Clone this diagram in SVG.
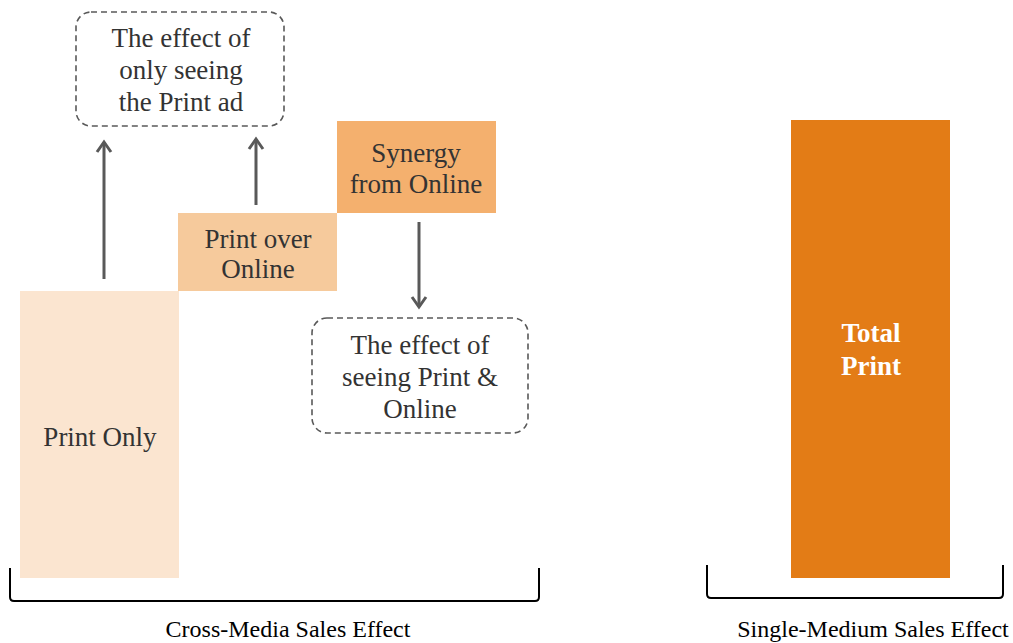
<svg xmlns="http://www.w3.org/2000/svg" width="1013" height="643" viewBox="0 0 1013 643">
  <style>
    .lbl { font-family: "Liberation Serif", "Times New Roman", serif; font-size: 27px; fill: #333333; text-anchor: middle; }
    .bold { font-weight: bold; fill: #ffffff; }
    .axis { font-family: "Liberation Serif", "Times New Roman", serif; font-size: 24px; fill: #000000; text-anchor: middle; }
    .note { fill: none; stroke: #595959; stroke-width: 1.6; stroke-dasharray: 6 4; }
    .conn { fill: none; stroke: #595959; stroke-width: 3; }
    .brace { fill: none; stroke: #000000; stroke-width: 2; }
  </style>
  <defs>
    <marker id="arrow" viewBox="0 0 20 20" refX="11" refY="10" markerWidth="20" markerHeight="20" markerUnits="userSpaceOnUse" orient="auto" overflow="visible">
      <path d="M1,3 L11,10 L1,17" fill="none" stroke="#595959" stroke-width="3" stroke-linejoin="miter"/>
    </marker>
  </defs>

  <!-- stacked bar: cross-media -->
  <g id="print-only">
    <rect x="20" y="291" width="159" height="287" fill="#FBE5D0"/>
    <text class="lbl" x="100" y="446">Print Only</text>
  </g>
  <g id="print-over-online">
    <rect x="178" y="213" width="159" height="78" fill="#F6CA9C"/>
    <text class="lbl" x="258" y="248">Print over</text>
    <text class="lbl" x="258" y="278">Online</text>
  </g>
  <g id="synergy">
    <rect x="337" y="121" width="159" height="92" fill="#F4B06E"/>
    <text class="lbl" x="416" y="162">Synergy</text>
    <text class="lbl" x="416" y="193">from Online</text>
  </g>

  <!-- single-medium bar -->
  <g id="total-print">
    <rect x="791" y="120" width="159" height="458" fill="#E37C16"/>
    <text class="lbl bold" x="871" y="342">Total</text>
    <text class="lbl bold" x="871" y="375">Print</text>
  </g>

  <!-- callouts -->
  <g id="note-print-only">
    <rect class="note" x="76" y="12" width="208" height="114" rx="15" ry="15"/>
    <text class="lbl" x="181" y="47">The effect of</text>
    <text class="lbl" x="181" y="79">only seeing</text>
    <text class="lbl" x="181" y="111">the Print ad</text>
  </g>
  <g id="note-print-online">
    <rect class="note" x="312" y="318" width="216" height="115" rx="15" ry="15"/>
    <text class="lbl" x="420" y="354">The effect of</text>
    <text class="lbl" x="420" y="386">seeing Print &amp;</text>
    <text class="lbl" x="420" y="418">Online</text>
  </g>

  <!-- connectors -->
  <g id="connectors">
    <line class="conn" x1="104" y1="279" x2="104" y2="142" marker-end="url(#arrow)"/>
    <line class="conn" x1="256" y1="205" x2="256" y2="139" marker-end="url(#arrow)"/>
    <line class="conn" x1="419" y1="222" x2="419" y2="307" marker-end="url(#arrow)"/>
  </g>

  <!-- brackets and axis labels -->
  <g id="cross-media-bracket">
    <path class="brace" d="M10,568 L10,597 Q10,601 14,601 L535,601 Q539,601 539,597 L539,568"/>
    <text class="axis" x="288" y="637">Cross-Media Sales Effect</text>
  </g>
  <g id="single-medium-bracket">
    <path class="brace" d="M707,565 L707,594 Q707,598 711,598 L999,598 Q1003,598 1003,594 L1003,565"/>
    <text class="axis" x="873" y="637">Single-Medium Sales Effect</text>
  </g>
</svg>
